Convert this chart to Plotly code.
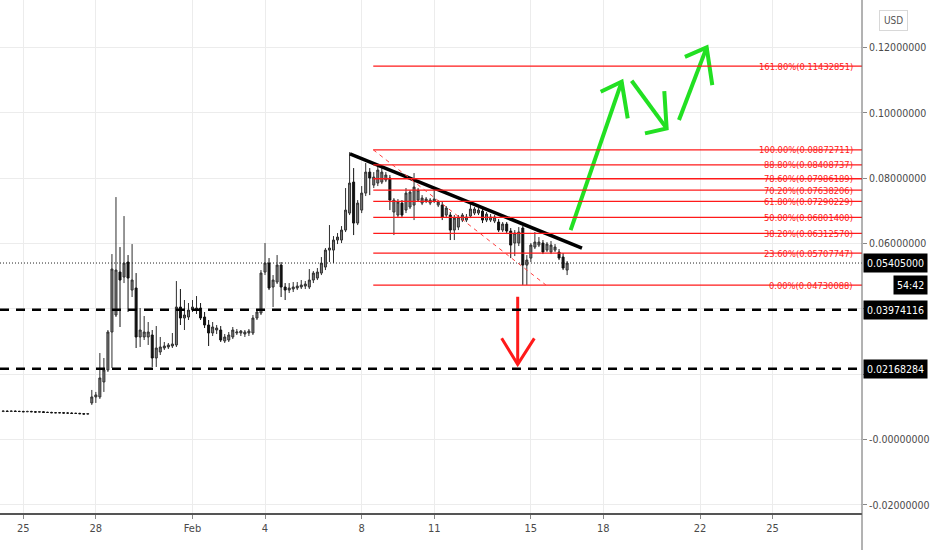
import pandas as pd
import plotly.graph_objects as go

# 4h candles, Jan 24 04:00 -> Feb 16 12:00
times = pd.date_range("2019-01-24 04:00", periods=141, freq="4h")

opens = [
    0.0086, 0.0087, 0.0086, 0.0087, 0.0086, 0.0086, 0.0085, 0.0086, 0.0085, 0.0084, 0.0085,
    0.0083, 0.0083, 0.0082, 0.0082, 0.0082, 0.0081, 0.0081, 0.0080, 0.0080, 0.0079, 0.0078,
    0.01120, 0.01304, 0.01304, 0.01763, 0.02130, 0.03293, 0.03813, 0.05129, 0.04976, 0.05435,
    0.04578, 0.04639, 0.03140, 0.03140, 0.03140, 0.03201, 0.02497, 0.02681, 0.02803, 0.02834,
    0.02864, 0.02895, 0.04058, 0.03721, 0.03752, 0.03966, 0.03966, 0.04027, 0.03752, 0.03507,
    0.03262, 0.03354, 0.03354, 0.03017, 0.03048, 0.03140, 0.03262, 0.03262, 0.03231, 0.03262,
    0.03262, 0.03721, 0.03874, 0.05129, 0.05404, 0.04670, 0.04823, 0.05343, 0.04670, 0.04578,
    0.04609, 0.04639, 0.04670, 0.04700, 0.04670, 0.04884, 0.04945, 0.05098, 0.05282, 0.05802,
    0.05802, 0.06109, 0.06109, 0.06415, 0.06935, 0.07884, 0.06629, 0.07027, 0.07547, 0.08190,
    0.07792, 0.07854, 0.07884, 0.07946, 0.08007, 0.06966, 0.06874, 0.07241, 0.07027, 0.07119,
    0.07180, 0.07333, 0.07241, 0.07302, 0.07241, 0.07302, 0.07180, 0.07180, 0.06874, 0.06874,
    0.06415, 0.06506, 0.06721, 0.06721, 0.06843, 0.06935, 0.06935, 0.06996, 0.06721, 0.06721,
    0.06690, 0.06660, 0.06415, 0.06598, 0.06384, 0.06017, 0.06017, 0.06476, 0.05343, 0.05557,
    0.05894, 0.05955, 0.06017, 0.05802, 0.05741, 0.05802, 0.05741, 0.05588, 0.05190,
]
highs = [
    0.0089, 0.0089, 0.0089, 0.0089, 0.0088, 0.0088, 0.0088, 0.0088, 0.0087, 0.0087, 0.0087,
    0.0085, 0.0085, 0.0084, 0.0084, 0.0084, 0.0083, 0.0083, 0.0082, 0.0082, 0.0081, 0.0081,
    0.01518, 0.01457, 0.02649, 0.02497, 0.03354, 0.05680, 0.07425, 0.05894, 0.06843, 0.05649,
    0.05986, 0.05098, 0.04027, 0.03782, 0.03599, 0.03354, 0.03476, 0.03140, 0.02987, 0.02956,
    0.03262, 0.04853, 0.04609, 0.04272, 0.04180, 0.04272, 0.04394, 0.04180, 0.03905, 0.03660,
    0.03599, 0.03507, 0.03476, 0.03231, 0.03293, 0.03446, 0.03385, 0.03354, 0.03354, 0.03385,
    0.03813, 0.03966, 0.05190, 0.06017, 0.05557, 0.05037, 0.05649, 0.05435, 0.04792, 0.04792,
    0.04823, 0.04823, 0.04884, 0.04853, 0.05221, 0.05159, 0.05251, 0.05588, 0.05864, 0.06568,
    0.06231, 0.06323, 0.06537, 0.07701, 0.08800, 0.08313, 0.07333, 0.07762, 0.08466, 0.08313,
    0.08190, 0.08405, 0.08313, 0.08190, 0.08099, 0.07394, 0.07364, 0.07333, 0.07701, 0.07639,
    0.08160, 0.07701, 0.07486, 0.07425, 0.07394, 0.07701, 0.07333, 0.07272, 0.07149, 0.06966,
    0.06874, 0.06874, 0.06935, 0.06905, 0.07241, 0.07119, 0.07088, 0.07088, 0.06966, 0.06905,
    0.06874, 0.06751, 0.06660, 0.06660, 0.06476, 0.06415, 0.06506, 0.06537, 0.05649, 0.06017,
    0.06354, 0.06200, 0.06109, 0.06047, 0.06078, 0.05986, 0.05833, 0.05711, 0.05466,
]
lows = [
    0.0084, 0.0085, 0.0085, 0.0085, 0.0084, 0.0084, 0.0084, 0.0084, 0.0083, 0.0083, 0.0082,
    0.0082, 0.0081, 0.0081, 0.0081, 0.0080, 0.0080, 0.0079, 0.0079, 0.0078, 0.0077, 0.0077,
    0.01059, 0.01120, 0.01243, 0.01457, 0.02069, 0.02191, 0.03752, 0.03446, 0.04792, 0.03905,
    0.04364, 0.02803, 0.02834, 0.03048, 0.02895, 0.02222, 0.02222, 0.02589, 0.02742, 0.02772,
    0.02803, 0.02834, 0.03507, 0.03354, 0.03660, 0.03905, 0.03844, 0.03660, 0.03415, 0.02864,
    0.03170, 0.03231, 0.02987, 0.02956, 0.02987, 0.03078, 0.03201, 0.03170, 0.03140, 0.03170,
    0.03201, 0.03660, 0.03813, 0.05037, 0.04578, 0.04058, 0.04762, 0.04364, 0.04272, 0.04486,
    0.04517, 0.04578, 0.04609, 0.04609, 0.04609, 0.04792, 0.04884, 0.05037, 0.05190, 0.05435,
    0.05404, 0.05986, 0.06017, 0.06354, 0.06874, 0.06262, 0.06568, 0.06935, 0.07456, 0.07486,
    0.07701, 0.07762, 0.07823, 0.07884, 0.07027, 0.06262, 0.06813, 0.06782, 0.06935, 0.07058,
    0.06721, 0.07272, 0.07180, 0.07241, 0.07180, 0.07241, 0.07119, 0.06721, 0.06782, 0.06109,
    0.06109, 0.06415, 0.06660, 0.06660, 0.06782, 0.06874, 0.06874, 0.06629, 0.06660, 0.06660,
    0.06629, 0.06354, 0.06354, 0.06292, 0.05557, 0.05619, 0.05925, 0.04731, 0.04731, 0.05435,
    0.05833, 0.05894, 0.05680, 0.05741, 0.05680, 0.05741, 0.05496, 0.05190, 0.05037,
]
closes = [
    0.0087, 0.0086, 0.0087, 0.0086, 0.0086, 0.0085, 0.0086, 0.0085, 0.0084, 0.0085, 0.0083,
    0.0083, 0.0082, 0.0082, 0.0082, 0.0081, 0.0081, 0.0080, 0.0080, 0.0079, 0.0078, 0.0079,
    0.01304, 0.01365, 0.01885, 0.02130, 0.03293, 0.05221, 0.05190, 0.04884, 0.05404, 0.04945,
    0.04884, 0.03140, 0.03354, 0.03293, 0.03293, 0.02497, 0.02803, 0.02834, 0.02864, 0.02895,
    0.02925, 0.04058, 0.03721, 0.03813, 0.03966, 0.04058, 0.04027, 0.03721, 0.03507, 0.03262,
    0.03446, 0.03415, 0.03048, 0.03140, 0.03201, 0.03354, 0.03293, 0.03323, 0.03293, 0.03323,
    0.03721, 0.03905, 0.05098, 0.05404, 0.04639, 0.04884, 0.05343, 0.04670, 0.04578, 0.04639,
    0.04670, 0.04700, 0.04731, 0.04762, 0.04884, 0.05098, 0.05129, 0.05404, 0.05802, 0.05864,
    0.06109, 0.06200, 0.06415, 0.07027, 0.07854, 0.06629, 0.07241, 0.07547, 0.08190, 0.08007,
    0.08037, 0.08252, 0.08190, 0.08099, 0.07333, 0.07333, 0.07272, 0.06874, 0.07547, 0.07578,
    0.07731, 0.07639, 0.07394, 0.07364, 0.07333, 0.07364, 0.07272, 0.06813, 0.07088, 0.06415,
    0.06782, 0.06813, 0.06874, 0.06813, 0.07058, 0.07058, 0.07027, 0.06721, 0.06905, 0.06813,
    0.06813, 0.06415, 0.06598, 0.06384, 0.05955, 0.06323, 0.06354, 0.05343, 0.05496, 0.05955,
    0.06047, 0.06047, 0.05741, 0.05986, 0.05955, 0.05894, 0.05557, 0.05251, 0.05405,
]

last_price = 0.05405
countdown = "54:42"

# fibonacci retracement (drawn from the Feb 8 high to the Feb 15 low)
fib_start = "2019-02-08 11:30"
fib_end = "2019-02-15 15:00"
fib_pcts = ["161.80%", "100.00%", "88.80%", "78.60%", "70.20%", "61.80%", "50.00%", "38.20%", "23.60%", "0.00%"]
fib_prices = [0.11432851, 0.08872711, 0.08408737, 0.07986189, 0.07638206,
              0.07290229, 0.06801400, 0.06312570, 0.05707747, 0.04730088]

support_levels = [0.03974116, 0.02168284]

# hand drawn lines
trend_x = ["2019-02-07 12:20", "2019-02-17 02:45"]
trend_y = [0.0875, 0.05864]

green_arrows = [
    (["2019-02-16 15:30", "2019-02-18 18:10"], [0.06415, 0.10955],
     ["2019-02-17 21:20", "2019-02-18 18:10", "2019-02-19 00:10"], [0.10649, 0.10955, 0.09835]),
    (["2019-02-19 04:05", "2019-02-20 14:50"], [0.10986, 0.09528],
     ["2019-02-19 17:20", "2019-02-20 14:50", "2019-02-20 12:30"], [0.09375, 0.09528, 0.10671]),
    (["2019-02-21 03:05", "2019-02-22 06:35"], [0.09783, 0.12009],
     ["2019-02-21 09:00", "2019-02-22 06:35", "2019-02-22 12:10"], [0.11721, 0.12009, 0.10854]),
]
red_arrow_x = ["2019-02-14 10:55", "2019-02-14 10:55"]
red_arrow_y = [0.04372, 0.02303]
red_head_x = ["2019-02-13 19:00", "2019-02-14 10:55", "2019-02-15 03:25"]
red_head_y = [0.03099, 0.02303, 0.03099]

tick_dates = ["2019-01-25", "2019-01-28", "2019-02-01", "2019-02-04", "2019-02-08",
              "2019-02-11", "2019-02-15", "2019-02-18", "2019-02-22", "2019-02-25"]
tick_text = ["25", "28", "Feb", "4", "8", "11", "15", "18", "22", "25"]
price_ticks = [-0.02, 0.0, 0.02, 0.04, 0.06, 0.08, 0.10, 0.12]
price_text = ["-0.02000000", "-0.00000000", "", "", "0.06000000", "0.08000000", "0.10000000", "0.12000000"]

FONT = "Liberation Sans Narrow, DejaVu Sans Condensed, Arial Narrow, Liberation Sans, sans-serif"

fig = go.Figure()
fig.add_trace(go.Candlestick(
    x=times, open=opens, high=highs, low=lows, close=closes,
    increasing=dict(line=dict(color="#2e2e2e", width=1), fillcolor="#7e7e7e"),
    decreasing=dict(line=dict(color="#111111", width=1), fillcolor="#111111"),
    showlegend=False, hoverinfo="skip",
))

shapes = []
for lvl in support_levels:
    shapes.append(dict(type="line", xref="paper", x0=0, x1=1, yref="y", y0=lvl, y1=lvl,
                       line=dict(color="black", width=2.5, dash="9px,7px")))
shapes.append(dict(type="line", xref="paper", x0=0, x1=1, yref="y", y0=last_price, y1=last_price,
                   line=dict(color="#222222", width=1, dash="1px,2px")))
for p in fib_prices:
    shapes.append(dict(type="line", xref="x", x0=fib_start, x1="2019-03-20", yref="y", y0=p, y1=p,
                       line=dict(color="#ff1a1a", width=1.3)))
shapes.append(dict(type="line", xref="x", x0=fib_start, x1=fib_end, yref="y",
                   y0=fib_prices[1], y1=fib_prices[-1],
                   line=dict(color="#ff4040", width=1, dash="4px,4px")))
# right price-axis line running down through the date strip
shapes.append(dict(type="line", xref="paper", x0=1, x1=1, yref="paper", y0=-0.08, y1=1,
                   line=dict(color="#666666", width=1)))
fig.update_layout(shapes=shapes)

fig.add_trace(go.Scatter(x=trend_x, y=trend_y, mode="lines", line=dict(color="black", width=3.5),
                         showlegend=False, hoverinfo="skip"))
for sx, sy, hx, hy in green_arrows:
    fig.add_trace(go.Scatter(x=sx, y=sy, mode="lines", line=dict(color="#22e022", width=4),
                             showlegend=False, hoverinfo="skip"))
    fig.add_trace(go.Scatter(x=hx, y=hy, mode="lines", line=dict(color="#22e022", width=4),
                             showlegend=False, hoverinfo="skip"))
fig.add_trace(go.Scatter(x=red_arrow_x, y=red_arrow_y, mode="lines", line=dict(color="#ff1a1a", width=3),
                         showlegend=False, hoverinfo="skip"))
fig.add_trace(go.Scatter(x=red_head_x, y=red_head_y, mode="lines", line=dict(color="#ff1a1a", width=3),
                         showlegend=False, hoverinfo="skip"))

annotations = []
for pct, p in zip(fib_pcts, fib_prices):
    annotations.append(dict(xref="paper", x=1, xshift=-7, xanchor="right", yref="y", y=p, yanchor="middle",
                            text="%s(%.8f)" % (pct, p), showarrow=False,
                            font=dict(family=FONT, size=9.3, color="#ff1a1a")))
for txt, p in [("%.8f" % last_price, last_price)] + [("%.8f" % s, s) for s in support_levels]:
    annotations.append(dict(xref="paper", x=1, xshift=1, xanchor="left", yref="y", y=p, yanchor="middle",
                            text=txt, showarrow=False, bgcolor="black", borderpad=3,
                            font=dict(family=FONT, size=10.5, color="white")))
annotations.append(dict(xref="paper", x=1.0765, xanchor="right", yref="y", y=fib_prices[-1], yanchor="middle",
                        text=countdown, showarrow=False, bgcolor="black", borderpad=3,
                        font=dict(family=FONT, size=10.5, color="white")))
annotations.append(dict(xref="paper", x=1.036, xanchor="center", yref="paper", y=0.961, yanchor="middle",
                        text="USD", showarrow=False, bordercolor="#d8d8d8", borderwidth=1, borderpad=4,
                        font=dict(family=FONT, size=10, color="#555555")))

fig.update_layout(
    width=932, height=550,
    margin=dict(l=0, r=70, t=0, b=37),
    paper_bgcolor="white", plot_bgcolor="white",
    annotations=annotations,
    font=dict(family=FONT, size=11, color="#4a4a4a"),
    xaxis=dict(
        type="date", range=["2019-01-24 00:50", "2019-02-28 16:50"],
        rangeslider=dict(visible=False),
        tickvals=tick_dates, ticktext=tick_text,
        showgrid=True, gridcolor="#ececec", gridwidth=1,
        showline=True, linecolor="#555555", linewidth=1.5,
        ticks="outside", ticklen=4, tickcolor="#888888",
        tickfont=dict(family=FONT, size=11, color="#4a4a4a"),
        zeroline=False, automargin=False,
    ),
    yaxis=dict(
        side="right", range=[-0.0225, 0.1346],
        tickvals=price_ticks, ticktext=price_text,
        showgrid=True, gridcolor="#ececec", gridwidth=1,
        showline=False,
        ticks="outside", ticklen=4, tickcolor="#888888",
        tickfont=dict(family=FONT, size=10.5, color="#4a4a4a"),
        zeroline=False, automargin=False,
    ),
)

# drop the browser's default 8px body margin so the chart sits at the page corner
fig.write_html("out.html", config={"displayModeBar": False},
               post_script="document.body.style.margin='0';")
